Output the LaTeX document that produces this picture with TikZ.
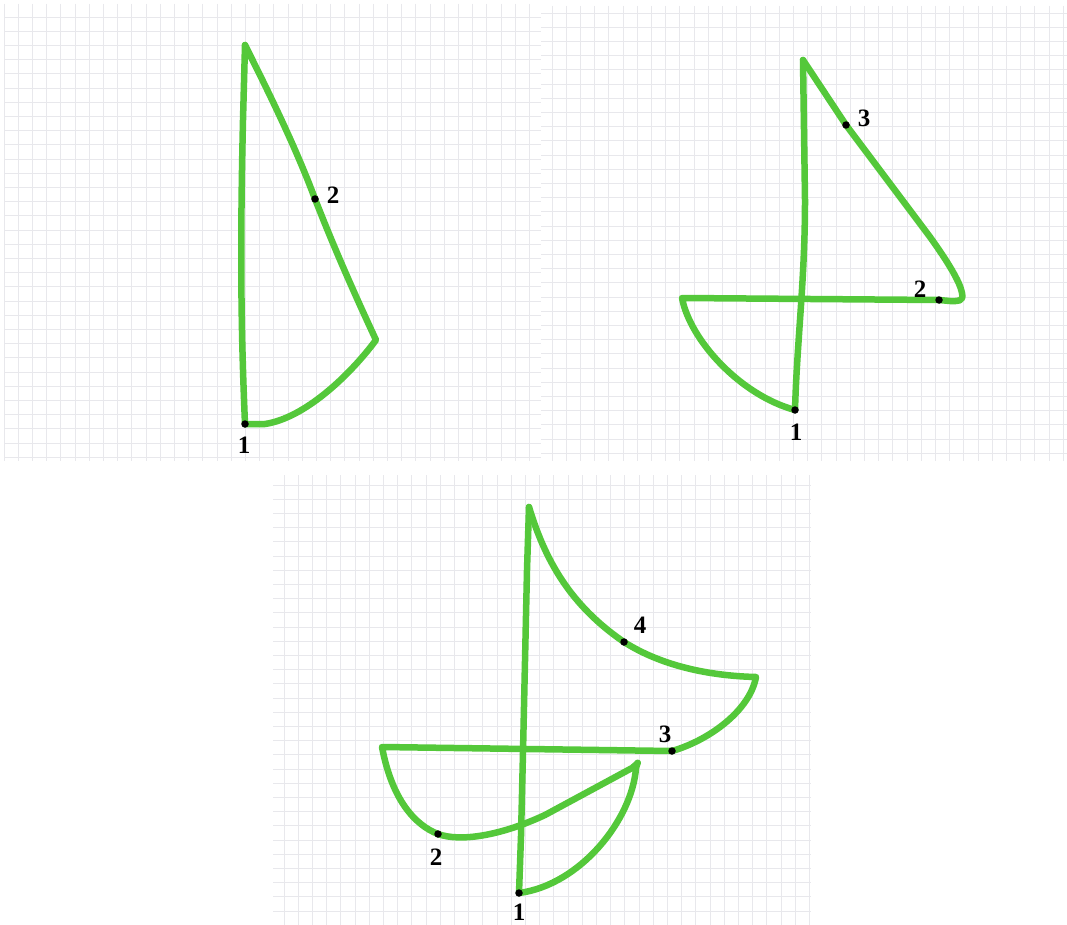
\documentclass[tikz,border=0pt]{standalone}
\usepackage{fontspec}
\newfontfamily\labfont{Liberation Serif}
\usepackage{tikz}
\definecolor{pen}{RGB}{84,200,58}
\definecolor{gridc}{RGB}{232,232,236}
\begin{document}
\begin{tikzpicture}[x=1pt,y=-1pt,
  gridline/.style={draw=gridc, line width=0.9pt},
  stroke/.style={draw=pen, line width=6.5pt, line cap=round, line join=round},
  dot/.style={circle, fill=black, inner sep=0pt, minimum size=7.5pt},
  lab/.style={font=\labfont\fontsize{25}{25}\selectfont\bfseries, inner sep=0pt}]
\useasboundingbox (0,0) rectangle (1067,925);
\fill[white] (0,0) rectangle (1067,925);
% ---------- grids ----------
\foreach \x in {4,18.2,...,541} \draw[gridline] (\x,4) -- (\x,461);
\foreach \y in {17,31.2,...,461} \draw[gridline] (4,\y) -- (541,\y);
\foreach \x in {552,566.2,...,1067} \draw[gridline] (\x,6) -- (\x,461);
\foreach \y in {13,27.2,...,461} \draw[gridline] (541,\y) -- (1067,\y);
\foreach \x in {284,298.2,...,811} \draw[gridline] (\x,475) -- (\x,925);
\foreach \y in {485,499.2,...,925} \draw[gridline] (273,\y) -- (811,\y);
% ---------- panel 1 ----------
\coordinate (A1) at (245,45);
\coordinate (C1) at (376,340);
\coordinate (a1) at (245,424);
\coordinate (a2) at (315,199);
\draw[stroke] (A1) -- (243,120) .. controls (240,250) and (241,330) .. (a1);
\draw[stroke] (A1) .. controls (265,85) and (295,145) .. (a2)
  .. controls (335,250) and (355,295) .. (C1)
  .. controls (350,375) and (305,418) .. (265,424) -- (a1);
\node[dot] (da1) at (a1) {};
\node[dot] (da2) at (a2) {};
\node[lab] (la1) at (244,445) {1};
\node[lab] (la2) at (333,195) {2};
% ---------- panel 2 ----------
\coordinate (T2) at (803,60);
\coordinate (b1) at (795,410);
\coordinate (b2) at (939,300);
\coordinate (b3) at (846,125);
\draw[stroke] (T2) -- (805,200) .. controls (805,280) and (797,340) .. (b1);
\draw[stroke] (T2) -- (b3) -- (930,237)
  .. controls (948,262) and (960,282) .. (962,293)
  .. controls (964,302) and (958,301) .. (950,301)
  -- (b2) -- (682,298)
  .. controls (690,340) and (740,395) .. (b1);
\node[dot] (db1) at (b1) {};
\node[dot] (db2) at (b2) {};
\node[dot] (db3) at (b3) {};
\node[lab] (lb1) at (796,432) {1};
\node[lab] (lb2) at (920,289) {2};
\node[lab] (lb3) at (864,118) {3};
% ---------- panel 3 ----------
\coordinate (T3) at (529,507);
\coordinate (c1) at (519,893);
\coordinate (c2) at (438,834);
\coordinate (c3) at (672,751);
\coordinate (c4) at (624,642);
\draw[stroke] (T3) -- (527,570) -- (523,752) -- (521,836) -- (c1);
\draw[stroke] (T3) .. controls (545,560) and (570,605) .. (c4)
  .. controls (665,668) and (715,676) .. (756,677)
  .. controls (750,710) and (710,740) .. (c3)
  -- (382,747)
  .. controls (392,800) and (415,825) .. (c2)
  .. controls (460,842) and (500,836) .. (545,815)
  -- (632,768)
  .. controls (640,762) and (638,760) .. (636,768)
  .. controls (632,820) and (580,885) .. (c1);
\node[dot] (dc1) at (c1) {};
\node[dot] (dc2) at (c2) {};
\node[dot] (dc3) at (c3) {};
\node[dot] (dc4) at (c4) {};
\node[lab] (lc1) at (519,912) {1};
\node[lab] (lc2) at (436,857) {2};
\node[lab] (lc3) at (665,734) {3};
\node[lab] (lc4) at (640,625) {4};
\end{tikzpicture}
\end{document}
